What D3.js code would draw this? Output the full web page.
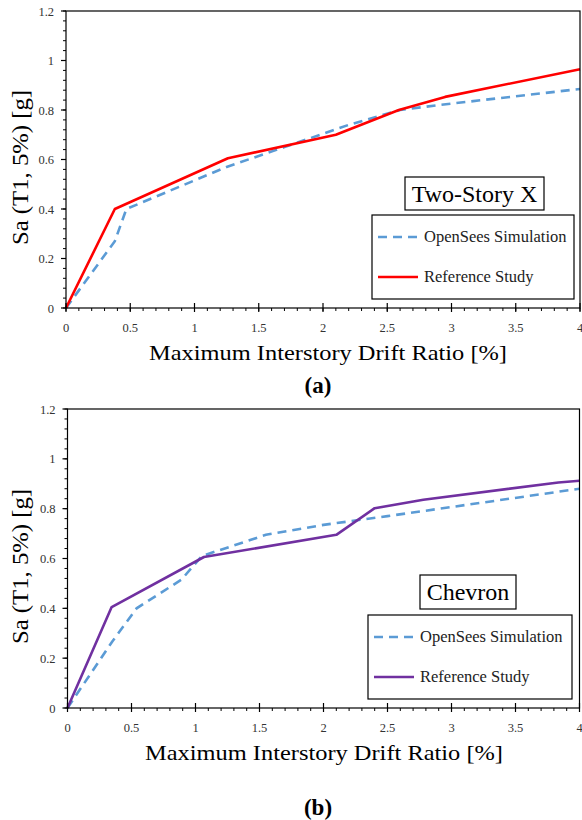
<!DOCTYPE html>
<html>
<head>
    <meta charset="utf-8">
    <title>Sa vs drift</title>
    <script src="https://d3js.org/d3.v7.min.js"></script>
    <style>
        html, body { margin: 0; background: #fff; }
        svg { display: block; }
        text { font-family: "Liberation Serif", "Times New Roman", serif; }
        .tick-label { fill: #333; font-size: 12.5px; }
    </style>
</head>
<body>
<svg width="582" height="820"></svg>
<script>
// panel (a) Two-Story X
const xOpenA = [0, 0.38, 0.47, 1.25, 1.7, 2.2, 2.6, 2.9, 4.0];
const yOpenA = [0, 0.27, 0.40, 0.57, 0.65, 0.74, 0.80, 0.82, 0.885];
const xRefA  = [0, 0.38, 1.26, 2.1, 2.59, 2.95, 4.0];
const yRefA  = [0, 0.40, 0.605, 0.70, 0.80, 0.853, 0.965];

// panel (b) Chevron
const xOpenB = [0, 0.35, 0.54, 0.89, 1.05, 1.55, 2.0, 2.5, 4.0];
const yOpenB = [0, 0.267, 0.40, 0.515, 0.61, 0.695, 0.735, 0.77, 0.88];
const xRefB  = [0, 0.345, 1.066, 2.1, 2.4, 2.78, 3.835, 4.0];
const yRefB  = [0, 0.405, 0.606, 0.695, 0.802, 0.836, 0.905, 0.912];

const xTicks = [0, 0.5, 1, 1.5, 2, 2.5, 3, 3.5, 4];
const yTicks = [0, 0.2, 0.4, 0.6, 0.8, 1, 1.2];
const seriesNames = ["OpenSees Simulation", "Reference Study"];

const svg = d3.select("svg");

function zip(xs, ys) { return xs.map((x, i) => [x, ys[i]]); }

function panel(cfg) {
    const x = d3.scaleLinear().domain([0, 4]).range([cfg.left, cfg.right]);
    const y = d3.scaleLinear().domain([0, 1.2]).range([cfg.bottom, cfg.top]);
    const g = svg.append("g");

    const line = d3.line().x(d => x(d[0])).y(d => y(d[1]));

    g.append("path")
        .datum(zip(cfg.xOpen, cfg.yOpen))
        .attr("d", line)
        .attr("fill", "none")
        .attr("stroke", "#5B9BD5")
        .attr("stroke-width", 2.6)
        .attr("stroke-dasharray", "9,6");

    g.append("path")
        .datum(zip(cfg.xRef, cfg.yRef))
        .attr("d", line)
        .attr("fill", "none")
        .attr("stroke", cfg.refColor)
        .attr("stroke-width", 2.6)
        .attr("stroke-linejoin", "round");

    // frame
    g.append("rect")
        .attr("x", cfg.left).attr("y", cfg.top)
        .attr("width", cfg.right - cfg.left).attr("height", cfg.bottom - cfg.top)
        .attr("fill", "none").attr("stroke", "#000").attr("stroke-width", 1.2);

    // x ticks
    const xMinor = d3.range(0, 40.5, 1).map(d => d / 10);
    g.selectAll(".xminor").data(xMinor).enter().append("line")
        .attr("x1", d => x(d)).attr("x2", d => x(d))
        .attr("y1", cfg.bottom).attr("y2", cfg.bottom + 3)
        .attr("stroke", "#000");
    g.selectAll(".xmajor").data(xTicks).enter().append("line")
        .attr("x1", d => x(d)).attr("x2", d => x(d))
        .attr("y1", cfg.bottom - 5).attr("y2", cfg.bottom + 4)
        .attr("stroke", "#000").attr("stroke-width", 1.2);
    g.selectAll(".xlab").data(xTicks).enter().append("text")
        .attr("class", "tick-label")
        .attr("x", d => x(d)).attr("y", cfg.bottom + 24)
        .attr("text-anchor", "middle")
        .text(d => d);

    // y ticks
    const yMinor = d3.range(0, 30.5, 1).map(d => d * 0.04);
    g.selectAll(".yminor").data(yMinor).enter().append("line")
        .attr("x1", cfg.left - 3).attr("x2", cfg.left)
        .attr("y1", d => y(d)).attr("y2", d => y(d))
        .attr("stroke", "#000");
    g.selectAll(".ymajor").data(yTicks).enter().append("line")
        .attr("x1", cfg.left - 5).attr("x2", cfg.left)
        .attr("y1", d => y(d)).attr("y2", d => y(d))
        .attr("stroke", "#000").attr("stroke-width", 1.2);
    g.selectAll(".ylab").data(yTicks).enter().append("text")
        .attr("class", "tick-label")
        .attr("x", cfg.left - 12).attr("y", d => y(d) + 4.5)
        .attr("text-anchor", "end")
        .text(d => d);

    // axis titles
    g.append("text")
        .attr("x", cfg.xTitleX).attr("y", cfg.bottom + 52)
        .attr("text-anchor", "middle")
        .attr("font-size", 22)
        .attr("textLength", 358).attr("lengthAdjust", "spacingAndGlyphs")
        .text("Maximum Interstory Drift Ratio [%]");

    const yMid = (cfg.top + cfg.bottom) / 2 + 8;
    g.append("text")
        .attr("transform", `translate(28,${yMid}) rotate(-90)`)
        .attr("text-anchor", "middle")
        .attr("font-size", 24)
        .attr("textLength", 155).attr("lengthAdjust", "spacingAndGlyphs")
        .text("Sa (T1, 5%) [g]");

    // panel caption
    g.append("text")
        .attr("x", 318).attr("y", cfg.captionY)
        .attr("text-anchor", "middle")
        .attr("font-size", 23).attr("font-weight", "bold")
        .text(cfg.caption);

    // name box
    const nb = cfg.nameBox;
    g.append("rect")
        .attr("x", nb[0]).attr("y", nb[1]).attr("width", nb[2]).attr("height", nb[3])
        .attr("fill", "#fff").attr("stroke", "#000").attr("stroke-width", 1.2);
    g.append("text")
        .attr("x", nb[0] + nb[2] / 2).attr("y", nb[1] + nb[3] / 2 + 8)
        .attr("text-anchor", "middle")
        .attr("font-size", 24)
        .text(cfg.name);

    // legend
    const lb = cfg.legendBox;
    g.append("rect")
        .attr("x", lb[0]).attr("y", lb[1]).attr("width", lb[2]).attr("height", lb[3])
        .attr("fill", "#fff").attr("stroke", "#000").attr("stroke-width", 1.2);
    const rows = [
        { name: seriesNames[0], color: "#5B9BD5", dash: "9,6", dy: 22 },
        { name: seriesNames[1], color: cfg.refColor, dash: null, dy: 62 }
    ];
    rows.forEach(r => {
        g.append("line")
            .attr("x1", lb[0] + 6).attr("x2", lb[0] + 46)
            .attr("y1", lb[1] + r.dy).attr("y2", lb[1] + r.dy)
            .attr("stroke", r.color).attr("stroke-width", 2.6)
            .attr("stroke-dasharray", r.dash);
        g.append("text")
            .attr("x", lb[0] + 52).attr("y", lb[1] + r.dy + 5)
            .attr("font-size", 16.5)
            .attr("fill", "#222")
            .text(r.name);
    });
}

panel({
    left: 66, right: 580, top: 11, bottom: 308,
    xOpen: xOpenA, yOpen: yOpenA, xRef: xRefA, yRef: yRefA,
    refColor: "#FF0000",
    xTitleX: 328, captionY: 393, caption: "(a)",
    name: "Two-Story X", nameBox: [405, 177, 139, 33],
    legendBox: [372, 215, 202, 84]
});

panel({
    left: 67.5, right: 579.5, top: 409, bottom: 708,
    xOpen: xOpenB, yOpen: yOpenB, xRef: xRefB, yRef: yRefB,
    refColor: "#7030A0",
    xTitleX: 324, captionY: 815, caption: "(b)",
    name: "Chevron", nameBox: [420, 575, 96, 34],
    legendBox: [368, 615, 204, 84]
});
</script>
</body>
</html>
